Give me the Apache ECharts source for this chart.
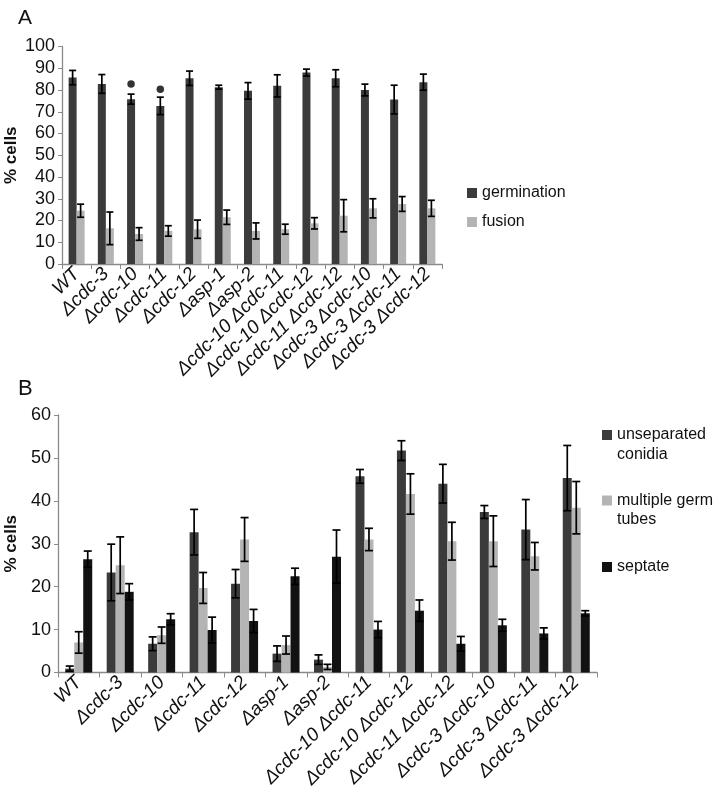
<!DOCTYPE html>
<html>
<head>
<meta charset="utf-8">
<script src="https://cdn.jsdelivr.net/npm/echarts@6/dist/echarts.min.js"></script>
<style>
html,body{margin:0;padding:0;background:#fff;}
#chart{width:719px;height:787px;}
</style>
</head>
<body>
<div id="chart"></div>
<script>
var categories = ['WT','Δcdc-3','Δcdc-10','Δcdc-11','Δcdc-12','Δasp-1','Δasp-2','Δcdc-10 Δcdc-11','Δcdc-10 Δcdc-12','Δcdc-11 Δcdc-12','Δcdc-3 Δcdc-10','Δcdc-3 Δcdc-11','Δcdc-3 Δcdc-12'];

// Panel A
var germination = [85.7,82.8,75.8,72.7,85.4,81.3,79.6,81.9,88.0,85.4,80.0,75.6,83.6];
var germinationErr = [3.3,4.3,2.3,4.0,3.3,0.9,3.8,5.1,1.6,3.9,2.7,6.6,3.7];
var fusion = [24.5,16.4,13.8,15.2,16.0,21.5,15.2,16.0,18.7,22.2,25.6,27.6,25.6];
var fusionErr = [3.0,7.5,2.9,2.4,4.2,3.3,3.7,2.3,2.6,7.4,4.4,3.4,3.7];
var significance = [null,null,82.8,80.4,null,null,null,null,null,null,null,null,null];

// Panel B
var unseparated = [0.9,23.3,6.7,32.7,20.7,4.4,3.0,45.7,51.7,44.0,37.4,33.3,45.3];
var unseparatedErr = [0.6,6.6,1.6,5.3,3.3,1.8,1.1,1.6,2.3,4.5,1.5,7.0,7.6];
var multipleGerm = [7.0,25.0,8.7,19.7,31.0,6.4,1.3,31.0,41.6,30.6,30.6,27.1,38.4];
var multipleGermErr = [2.5,6.6,1.9,3.6,5.1,2.1,0.6,2.6,4.7,4.4,5.9,3.2,6.1];
var septate = [26.4,18.8,12.4,9.9,12.0,22.4,27.0,10.0,14.4,6.7,11.0,9.1,13.8];
var septateErr = [1.9,1.9,1.3,3.0,2.7,1.9,6.2,1.9,2.5,1.7,1.4,1.3,0.6];

var FONT = 'Liberation Sans, Arial, Helvetica, sans-serif';
var C_DARK = '#3b3b3b', C_LIGHT = '#b4b4b4', C_BLACK = '#121212';

function errData(vals, errs){
  return vals.map(function(v,i){ return [i, v, errs[i]]; });
}
function errSeries(name, vals, errs, xi, yi, offset, cap){
  return {
    type:'custom', name:name+'-err', xAxisIndex:xi, yAxisIndex:yi, z:5,
    data: errData(vals, errs), encode:{x:0,y:1}, silent:true,
    renderItem: function(params, api){
      var i = api.value(0), v = api.value(1), e = api.value(2);
      var top = api.coord([i, v+e]);
      var bot = api.coord([i, v-e]);
      var x = top[0] + offset;
      var st = {stroke:'#000', lineWidth:1.7};
      return {type:'group', children:[
        {type:'line', shape:{x1:x,y1:top[1],x2:x,y2:bot[1]}, style:st},
        {type:'line', shape:{x1:x-cap,y1:top[1],x2:x+cap,y2:top[1]}, style:st},
        {type:'line', shape:{x1:x-cap,y1:bot[1],x2:x+cap,y2:bot[1]}, style:st}
      ]};
    }
  };
}

var axisLineStyle = {lineStyle:{color:'#8a8a8a', width:1.3}};
function xAxis(gi){
  return {
    type:'category', gridIndex:gi, data:categories,
    axisLine:axisLineStyle,
    axisTick:{show:true, alignWithLabel:false, length:5, lineStyle:{color:'#8a8a8a'}},
    axisLabel:{rotate:45, interval:0, margin:7, fontFamily:FONT, fontSize:19, fontStyle:'italic', color:'#111'}
  };
}
function yAxis(gi, max){
  return {
    type:'value', gridIndex:gi, min:0, max:max, interval:10,
    name:'% cells', nameLocation:'middle', nameRotate:90, nameGap: gi===0?42:38,
    nameMoveOverlap:false,
    nameTextStyle:{fontFamily:FONT, fontSize:17, fontWeight:'bold', color:'#111'},
    splitLine:{show:false},
    axisLine:{show:true, lineStyle:{color:'#8a8a8a', width:1.3}},
    axisTick:{show:true, length:4, lineStyle:{color:'#8a8a8a'}},
    axisLabel:{fontFamily:FONT, fontSize:18, color:'#111', margin:7}
  };
}

var legendText = {fontFamily:FONT, fontSize:16, color:'#111'};
function legend(name, left, top, lineHeight){
  return {data:[name], left:left, top:top, orient:'vertical', padding:0,
    itemWidth:10, itemHeight:10, itemGap:0, icon:'rect', selectedMode:false,
    textStyle:Object.assign({lineHeight:lineHeight||18}, legendText),
    formatter: function(n){
      if(n==='unseparated conidia') return '\nunseparated\nconidia';
      if(n==='multiple germ tubes') return '\nmultiple germ\ntubes';
      return n;
    }
  };
}

var option = {
  animation:false,
  backgroundColor:'#fff',
  title:[
    {text:'A', left:13, top:3, textStyle:{fontFamily:FONT, fontSize:21, fontWeight:'normal', color:'#111'}},
    {text:'B', left:13, top:373, textStyle:{fontFamily:FONT, fontSize:22, fontWeight:'normal', color:'#111'}}
  ],
  grid:[
    {left:62, top:46.5, width:380, height:217.5, outerBoundsMode:'none', containLabel:false},
    {left:58, top:415, width:539, height:257.5, outerBoundsMode:'none', containLabel:false}
  ],
  legend:[
    legend('germination', 467, 184),
    legend('fusion', 467, 213),
    legend('unseparated conidia', 602, 405, 20),
    legend('multiple germ tubes', 602, 472, 19),
    legend('septate', 602, 558)
  ],
  xAxis:[xAxis(0), xAxis(1)],
  yAxis:[yAxis(0,100), yAxis(1,60)],
  series:[
    {type:'bar', name:'germination', xAxisIndex:0, yAxisIndex:0, data:germination, barWidth:8, barGap:'0%', itemStyle:{color:C_DARK}},
    {type:'bar', name:'fusion', xAxisIndex:0, yAxisIndex:0, data:fusion, barWidth:8, barGap:'0%', itemStyle:{color:C_LIGHT}},
    errSeries('germination', germination, germinationErr, 0, 0, -4, 3.5),
    errSeries('fusion', fusion, fusionErr, 0, 0, 4, 3.5),
    {type:'scatter', name:'sig', xAxisIndex:0, yAxisIndex:0, data:significance, symbol:'circle', symbolSize:7.5, symbolOffset:[-4,0], itemStyle:{color:'#000'}, silent:true, z:6},

    {type:'bar', name:'unseparated conidia', xAxisIndex:1, yAxisIndex:1, data:unseparated, barWidth:9, barGap:'0%', itemStyle:{color:C_DARK}},
    {type:'bar', name:'multiple germ tubes', xAxisIndex:1, yAxisIndex:1, data:multipleGerm, barWidth:9, barGap:'0%', itemStyle:{color:C_LIGHT}},
    {type:'bar', name:'septate', xAxisIndex:1, yAxisIndex:1, data:septate, barWidth:9, barGap:'0%', itemStyle:{color:C_BLACK}},
    errSeries('unseparated conidia', unseparated, unseparatedErr, 1, 1, -9, 4),
    errSeries('multiple germ tubes', multipleGerm, multipleGermErr, 1, 1, 0, 4),
    errSeries('septate', septate, septateErr, 1, 1, 9, 4)
  ]
};

var chart = echarts.init(document.getElementById('chart'), null, {renderer:'canvas'});
chart.setOption(option);
</script>
</body>
</html>
